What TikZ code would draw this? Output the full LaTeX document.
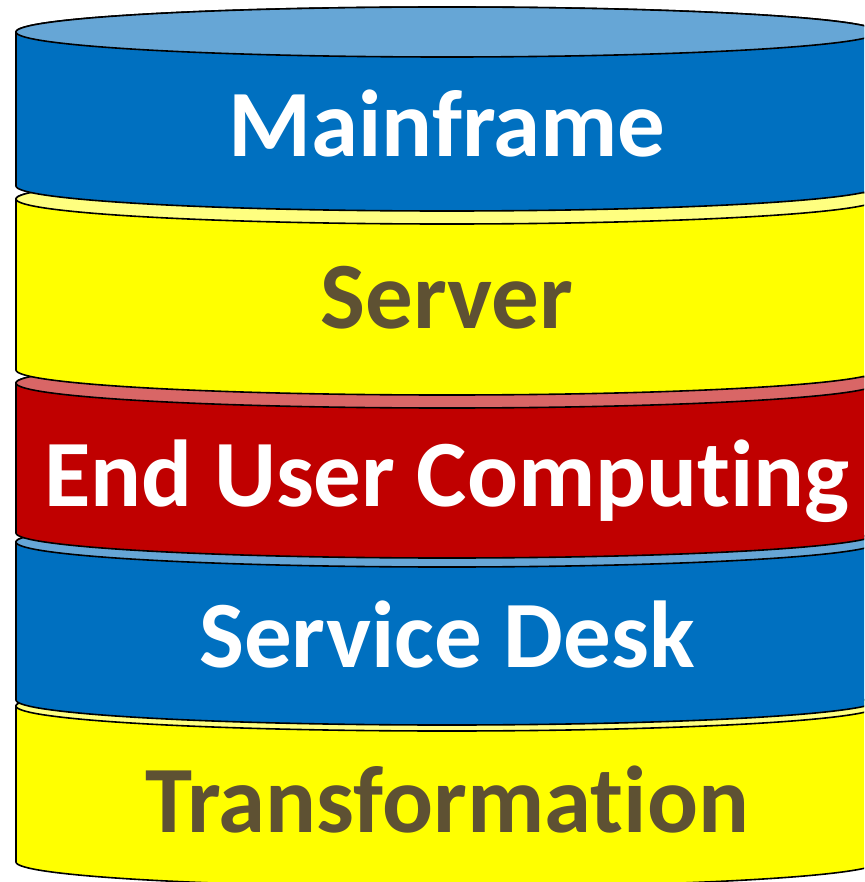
\documentclass[tikz,border=0pt]{standalone}
\usepackage{fontspec}
\setmainfont{Carlito}[Ligatures=NoCommon]
\definecolor{dblue}{RGB}{0,112,192}
\definecolor{lblue}{RGB}{102,166,214}
\definecolor{dyel}{RGB}{255,255,0}
\definecolor{lyel}{RGB}{255,255,128}
\definecolor{dred}{RGB}{192,0,0}
\definecolor{lred}{RGB}{217,102,102}
\definecolor{olivetext}{RGB}{94,81,51}
\newcommand{\cyllayer}[4]{%
  \path[layerline,fill=#3] (16,#1) -- (16,#2)
    arc[start angle=180,end angle=360,x radius=431pt,y radius=25pt]
    -- (878,#1)
    arc[start angle=0,end angle=180,x radius=431pt,y radius=25pt] -- cycle;
  \path[layerline,fill=#4] (447,#1) ellipse[x radius=431pt,y radius=25pt];
}
\begin{document}
\begin{tikzpicture}[x=1pt,y=-1pt,
  layerline/.style={draw=black,line width=1.6pt},
  label/.style={anchor=base,inner sep=0pt,font=\fontsize{95}{100}\selectfont\bfseries}]
\useasboundingbox (0,0) rectangle (864,882);
\clip (0,0) rectangle (864,882);
\cyllayer{706}{862}{dyel}{lyel}
\cyllayer{542}{700}{dblue}{lblue}
\cyllayer{383}{533}{dred}{lred}
\cyllayer{199}{370}{dyel}{lyel}
\cyllayer{32}{186}{dblue}{lblue}
\node[label,text=white] (mainframe) at (447,157) {Mainframe};
\node[label,text=olivetext] (server) at (447,328) {Server};
\node[label,text=white] (euc) at (447,506) {End User Computing};
\node[label,text=white] (desk) at (447,667) {Service Desk};
\node[label,text=olivetext] (trans) at (447,832) {Transformation};
\end{tikzpicture}
\end{document}
